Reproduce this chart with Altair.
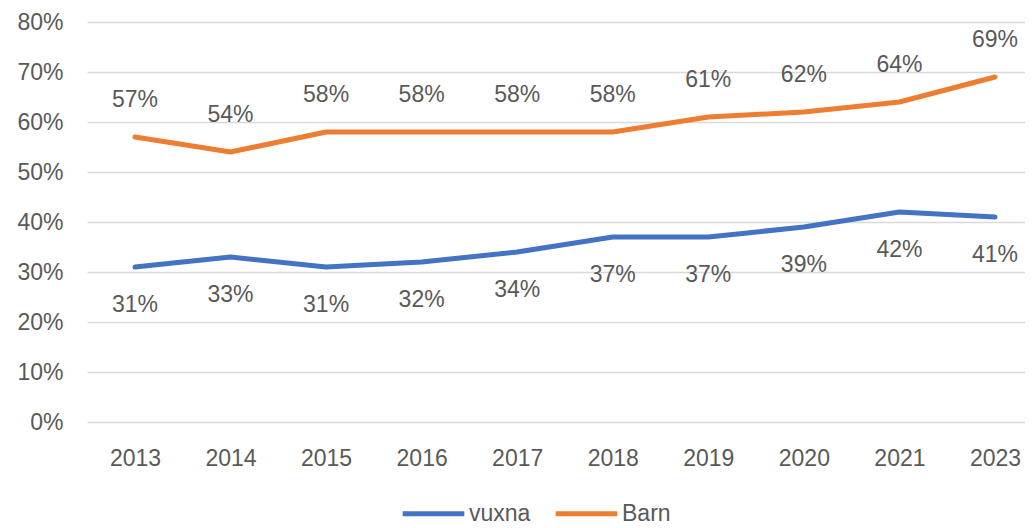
import altair as alt
import pandas as pd

years = ["2013", "2014", "2015", "2016", "2017", "2018", "2019", "2020", "2021", "2023"]
vuxna = [0.31, 0.33, 0.31, 0.32, 0.34, 0.37, 0.37, 0.39, 0.42, 0.41]
barn = [0.57, 0.54, 0.58, 0.58, 0.58, 0.58, 0.61, 0.62, 0.64, 0.69]
series = ["vuxna", "Barn"]
colors = ["#4472C4", "#ED7D31"]

rows = []
for i, y in enumerate(years):
    rows.append({"year": y, "serie": "vuxna", "value": vuxna[i]})
    rows.append({"year": y, "serie": "Barn", "value": barn[i]})
df = pd.DataFrame(rows)

FONT = "Liberation Sans"
GREY = "#595959"

xscale = alt.Scale(type="point", padding=0.408, align=0.615)
x = alt.X("year:N", sort=years, title=None, scale=xscale,
          axis=alt.Axis(labelAngle=0, ticks=False, domain=False, grid=False,
                        labelFont=FONT, labelFontSize=23, labelColor=GREY, labelPadding=25))
y = alt.Y("value:Q", title=None,
          scale=alt.Scale(domain=[0, 0.8]),
          axis=alt.Axis(format=".0%", values=[0, 0.1, 0.2, 0.3, 0.4, 0.5, 0.6, 0.7, 0.8],
                        ticks=False, domain=False, gridColor="#D9D9D9", gridWidth=1.5,
                        labelFont=FONT, labelFontSize=23, labelColor=GREY, labelPadding=24))
color = alt.Color("serie:N", sort=series,
                  scale=alt.Scale(domain=series, range=colors),
                  legend=alt.Legend(title=None, orient="none", direction="horizontal",
                                    legendX=313, legendY=458,
                                    symbolType="stroke", symbolSize=3800, symbolStrokeWidth=5,
                                    labelFont=FONT, labelFontSize=23, labelColor=GREY,
                                    labelOffset=2, columnPadding=14))

base = alt.Chart(df)
lines = base.mark_line(strokeWidth=5, strokeCap="round", strokeJoin="round").encode(
    x=x, y=y, color=color)

lab_barn = base.transform_filter(alt.datum.serie == "Barn").mark_text(
    dy=-37, font=FONT, fontSize=23, color=GREY).encode(
    x=x, y=y, text=alt.Text("value:Q", format=".0%"))
lab_vux = base.transform_filter(alt.datum.serie == "vuxna").mark_text(
    dy=38, font=FONT, fontSize=23, color=GREY).encode(
    x=x, y=y, text=alt.Text("value:Q", format=".0%"))

chart = alt.layer(lines, lab_barn, lab_vux).properties(
    width=938, height=400,
    background="white",
    autosize=alt.AutoSizeParams(type="none"),
    padding={"left": 79, "top": 14, "right": 0, "bottom": 106},
).configure_view(strokeWidth=0, stroke="transparent")

chart.save("out.html", embed_options={"renderer": "svg", "actions": False})
